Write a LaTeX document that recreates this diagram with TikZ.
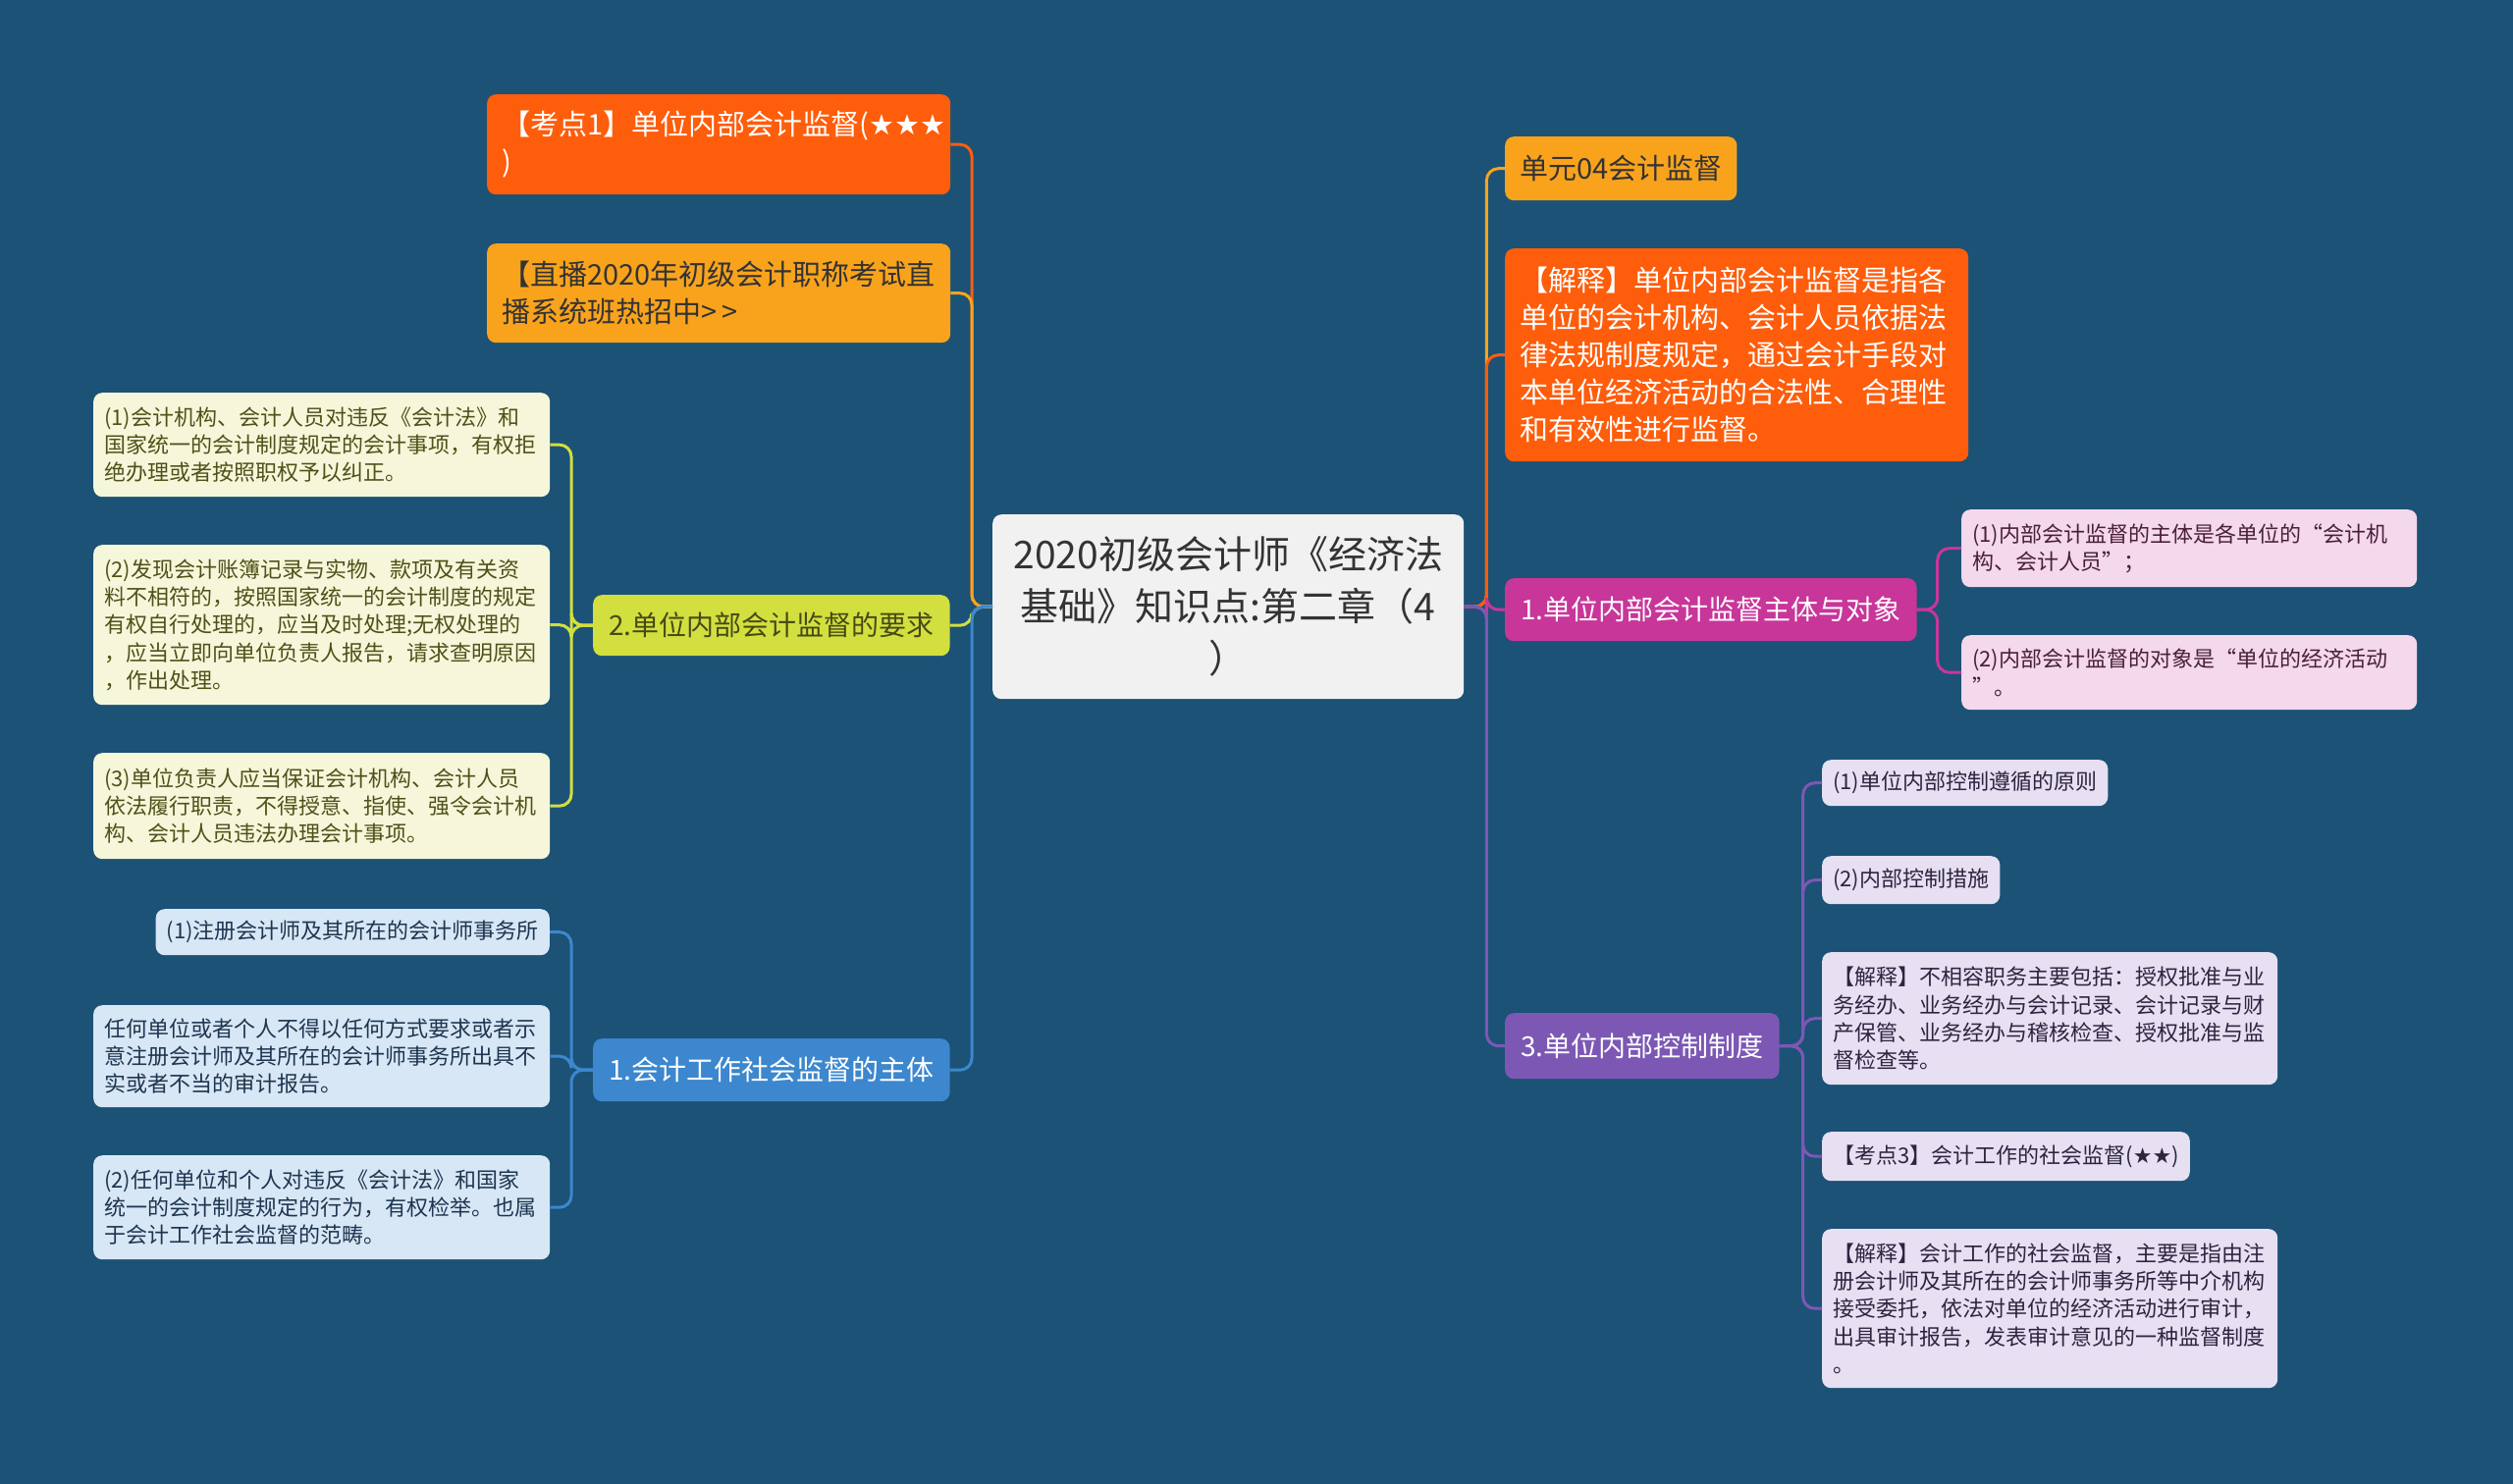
\documentclass[tikz,border=0pt]{standalone}
\usepackage{fontspec}
\setmainfont{Noto Sans CJK SC}
\newfontfamily\starfont{DejaVu Sans}

\definecolor{bgblue}{HTML}{1B5276}
\definecolor{rootfill}{HTML}{F1F1F1}
\definecolor{redorange}{HTML}{FE5D0B}
\definecolor{yelorange}{HTML}{F9A31C}
\definecolor{limegreen}{HTML}{D2DF3E}
\definecolor{creamfill}{HTML}{F6F7DA}
\definecolor{olivetext}{HTML}{4F5119}
\definecolor{midblue}{HTML}{3C87CE}
\definecolor{paleblue}{HTML}{D8E7F5}
\definecolor{navytext}{HTML}{1D3550}
\definecolor{magenta}{HTML}{C8369A}
\definecolor{palepink}{HTML}{F4D8EC}
\definecolor{plumtext}{HTML}{4A1F3A}
\definecolor{violet}{HTML}{7C58B4}
\definecolor{lavender}{HTML}{E6E0F2}
\definecolor{inktext}{HTML}{2E2440}

\tikzset{
  box/.style={rounded corners=9pt, anchor=north west, align=left, inner ysep=0pt},
  rootbox/.style={box, fill=rootfill, text=black!80, align=center, inner xsep=20pt,
    font=\fontsize{39}{53}\selectfont},
  onebox/.style={box, inner xsep=15pt, font=\fontsize{29}{38}\selectfont},
  titlebox/.style={box, inner xsep=16pt, font=\fontsize{28}{36}\selectfont},
  subbox/.style={box, inner xsep=11pt, font=\fontsize{22}{28.3}\selectfont},
  lnk/.style={line width=3pt, rounded corners=12pt},
}

\begin{document}
\begin{tikzpicture}[x=1pt,y=1pt,yscale=-1,xscale=1]
    \fill[bgblue] (0,0) rectangle (2560,1512);
    \useasboundingbox (0,0) rectangle (2560,1512);

    % centre topic
    \node[rootbox, text width=440pt, minimum height=188pt] (root) at (1011,524)
      {2020初级会计师《经济法\\基础》知识点:第二章（4\\）};

    % left side, first level
    \node[onebox, fill=redorange, text=white, text width=442pt, minimum height=102pt] (kd1) at (496,96)
      {【考点1】单位内部会计监督({\starfont ★★★}\\)};
    \node[onebox, fill=yelorange, text=black!80, text width=442pt, minimum height=101pt] (zb) at (496,248)
      {【直播2020年初级会计职称考试直\\播系统班热招中{>}\,{>}};
    \node[titlebox, fill=limegreen, text=olivetext!90!black, minimum height=62pt] (yq) at (604,606)
      {2.单位内部会计监督的要求};
    \node[titlebox, fill=midblue, text=white, minimum height=64pt] (sh) at (604,1058)
      {1.会计工作社会监督的主体};

    % left side, second level
    \node[subbox, fill=creamfill, text=olivetext, text width=443pt, minimum height=106pt] (yqa) at (95,400)
      {(1)会计机构、会计人员对违反《会计法》和\\国家统一的会计制度规定的会计事项，有权拒\\绝办理或者按照职权予以纠正。};
    \node[subbox, fill=creamfill, text=olivetext, text width=443pt, minimum height=163pt] (yqb) at (95,555)
      {(2)发现会计账簿记录与实物、款项及有关资\\料不相符的，按照国家统一的会计制度的规定\\有权自行处理的，应当及时处理;无权处理的\\，应当立即向单位负责人报告，请求查明原因\\，作出处理。};
    \node[subbox, fill=creamfill, text=olivetext, text width=443pt, minimum height=108pt] (yqc) at (95,767)
      {(3)单位负责人应当保证会计机构、会计人员\\依法履行职责，不得授意、指使、强令会计机\\构、会计人员违法办理会计事项。};

    \node[subbox, fill=paleblue, text=navytext, minimum height=47pt, anchor=north east] (sha) at (560,926)
      {(1)注册会计师及其所在的会计师事务所};
    \node[subbox, fill=paleblue, text=navytext, text width=443pt, minimum height=104pt] (shb) at (95,1024)
      {任何单位或者个人不得以任何方式要求或者示\\意注册会计师及其所在的会计师事务所出具不\\实或者不当的审计报告。};
    \node[subbox, fill=paleblue, text=navytext, text width=443pt, minimum height=106pt] (shc) at (95,1177)
      {(2)任何单位和个人对违反《会计法》和国家\\统一的会计制度规定的行为，有权检举。也属\\于会计工作社会监督的范畴。};

    % right side, first level
    \node[onebox, fill=yelorange, text=black!80, minimum height=65pt] (dy) at (1533,139)
      {单元04会计监督};
    \node[onebox, fill=redorange, text=white, text width=442pt, minimum height=217pt] (js) at (1533,253)
      {【解释】单位内部会计监督是指各\\单位的会计机构、会计人员依据法\\律法规制度规定，通过会计手段对\\本单位经济活动的合法性、合理性\\和有效性进行监督。};
    \node[titlebox, fill=magenta, text=white, minimum height=64pt] (zt) at (1533,589)
      {1.单位内部会计监督主体与对象};
    \node[titlebox, fill=violet, text=white, minimum height=67pt] (kz) at (1533,1032)
      {3.单位内部控制制度};

    % right side, second level
    \node[subbox, fill=palepink, text=plumtext, text width=442pt, minimum height=79pt] (zta) at (1998,519)
      {(1)内部会计监督的主体是各单位的“会计机\\构、会计人员”；};
    \node[subbox, fill=palepink, text=plumtext, text width=442pt, minimum height=76pt] (ztb) at (1998,647)
      {(2)内部会计监督的对象是“单位的经济活动\\”。};

    \node[subbox, fill=lavender, text=inktext, minimum height=47pt] (kza) at (1856,774)
      {(1)单位内部控制遵循的原则};
    \node[subbox, fill=lavender, text=inktext, minimum height=49pt] (kzb) at (1856,872)
      {(2)内部控制措施};
    \node[subbox, fill=lavender, text=inktext, text width=442pt, minimum height=135pt] (kzc) at (1856,970)
      {【解释】不相容职务主要包括：授权批准与业\\务经办、业务经办与会计记录、会计记录与财\\产保管、业务经办与稽核检查、授权批准与监\\督检查等。};
    \node[subbox, fill=lavender, text=inktext, minimum height=50pt] (kzd) at (1856,1153)
      {【考点3】会计工作的社会监督({\starfont ★★})};
    \node[subbox, fill=lavender, text=inktext, text width=442pt, minimum height=162pt] (kze) at (1856,1252)
      {【解释】会计工作的社会监督，主要是指由注\\册会计师及其所在的会计师事务所等中介机构\\接受委托，依法对单位的经济活动进行审计，\\出具审计报告，发表审计意见的一种监督制度\\。};

    % branches, left
    \draw[lnk, redorange] (root.west) -- ++(-21,0) |- (kd1.east);
    \draw[lnk, yelorange] (root.west) -- ++(-21,0) |- (zb.east);
    \draw[lnk, limegreen] (root.west) -- ++(-21,0) |- (yq.east);
    \draw[lnk, midblue] (root.west) -- ++(-21,0) |- (sh.east);
    \foreach \c in {yqa,yqb,yqc}
      \draw[lnk, limegreen] (yq.west) -- ++(-22,0) |- (\c.east);
    \foreach \c in {sha,shb,shc}
      \draw[lnk, midblue] (sh.west) -- ++(-22,0) |- (\c.east);

    % branches, right
    \draw[lnk, yelorange] (root.east) -- ++(23,0) |- (dy.west);
    \draw[lnk, redorange] (root.east) -- ++(23,0) |- (js.west);
    \draw[lnk, magenta] (root.east) -- ++(23,0) |- (zt.west);
    \draw[lnk, violet] (root.east) -- ++(23,0) |- (kz.west);
    \foreach \c in {zta,ztb}
      \draw[lnk, magenta] (zt.east) -- ++(21,0) |- (\c.west);
    \foreach \c in {kza,kzb,kzc,kzd,kze}
      \draw[lnk, violet] (kz.east) -- ++(24,0) |- (\c.west);

\end{tikzpicture}
\end{document}
